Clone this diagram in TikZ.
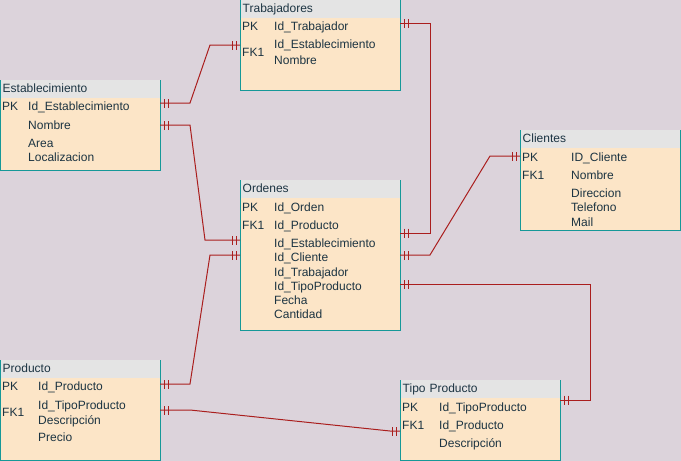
\documentclass[tikz,border=0pt]{standalone}
\usepackage{fontspec}
\setmainfont{Liberation Sans}
\usetikzlibrary{decorations.markings}
\definecolor{bgcol}{RGB}{220,211,219}
\definecolor{hdrcol}{RGB}{228,228,228}
\definecolor{bodycol}{RGB}{252,229,199}
\definecolor{tealcol}{RGB}{22,152,152}
\definecolor{relcol}{RGB}{170,30,30}
\definecolor{txtcol}{RGB}{28,52,66}

\begin{document}
\begin{tikzpicture}[x=1pt, y=-1pt,
    font=\fontsize{12}{14}\selectfont,
    tbl/.style={anchor=north west, fill=bodycol, minimum width=160pt, inner sep=0pt},
    hdr/.style={anchor=north west, fill=hdrcol, text width=155pt, inner xsep=2.5pt, inner ysep=0pt, minimum height=18pt, text height=10pt, text depth=3pt, text=txtcol},
    fld/.style={anchor=base west, yshift=-4.3pt, inner sep=0pt, text=txtcol},
    frame/.style={draw=tealcol, line width=1pt},
    tick/.style={draw=relcol, line width=1pt},
    rel/.style={draw=relcol, line width=1pt, postaction={decorate},
        decoration={markings,
            mark=at position 4pt with {\draw[tick] (0,-4.5pt) -- (0,4.5pt);},
            mark=at position 8pt with {\draw[tick] (0,-4.5pt) -- (0,4.5pt);},
            mark=at position -4pt with {\draw[tick] (0,-4.5pt) -- (0,4.5pt);},
            mark=at position -8pt with {\draw[tick] (0,-4.5pt) -- (0,4.5pt);}}}
]
\useasboundingbox[fill=bgcol] (0,0) rectangle (681,461);

% Trabajadores
\node[tbl, minimum height=90pt] (trab) at (240,0) {};
\node[hdr] (trabH) at (trab.north west) {Trabajadores};
\draw[frame] (trab.north west) |- (trab.south east) -- (trab.north east);
\node[fld] at (242,26) {PK};
\node[fld] at (242,52) {FK1};
\node[fld] at (274,26) {Id\_Trabajador};
\node[fld] at (274,44) {Id\_Establecimiento};
\node[fld] at (274,60) {Nombre};

% Establecimiento
\node[tbl, minimum height=90pt] (est) at (0,80) {};
\node[hdr] (estH) at (est.north west) {Establecimiento};
\draw[frame] (est.north west) |- (est.south east) -- (est.north east);
\node[fld] at (2,106) {PK};
\node[fld] at (28,106) {Id\_Establecimiento};
\node[fld] at (28,125) {Nombre};
\node[fld] at (28,143) {Area};
\node[fld] at (28,157) {Localizacion};

% Ordenes
\node[tbl, minimum height=150pt] (ord) at (240,180) {};
\node[hdr] (ordH) at (ord.north west) {Ordenes};
\draw[frame] (ord.north west) |- (ord.south east) -- (ord.north east);
\node[fld] at (242,207) {PK};
\node[fld] at (242,225) {FK1};
\node[fld] at (274,207) {Id\_Orden};
\node[fld] at (274,225) {Id\_Producto};
\node[fld] at (274,243) {Id\_Establecimiento};
\node[fld] at (274,257) {Id\_Cliente};
\node[fld] at (274,272) {Id\_Trabajador};
\node[fld] at (274,286) {Id\_TipoProducto};
\node[fld] at (274,300) {Fecha};
\node[fld] at (274,314) {Cantidad};

% Clientes
\node[tbl, minimum height=100pt] (cli) at (520,130) {};
\node[hdr] (cliH) at (cli.north west) {Clientes};
\draw[frame] (cli.north west) |- (cli.south east) -- (cli.north east);
\node[fld] at (522,157) {PK};
\node[fld] at (522,175) {FK1};
\node[fld] at (571,157) {ID\_Cliente};
\node[fld] at (571,175) {Nombre};
\node[fld] at (571,193) {Direccion};
\node[fld] at (571,207) {Telefono};
\node[fld] at (571,222) {Mail};

% Producto
\node[tbl, minimum height=100pt] (prod) at (0,360) {};
\node[hdr] (prodH) at (prod.north west) {Producto};
\draw[frame] (prod.north west) |- (prod.south east) -- (prod.north east);
\node[fld] at (2,386) {PK};
\node[fld] at (2,412) {FK1};
\node[fld] at (38,386) {Id\_Producto};
\node[fld] at (38,405) {Id\_TipoProducto};
\node[fld] at (38,420) {Descripción};
\node[fld] at (38,437) {Precio};

% Tipo Producto
\node[tbl, minimum height=80pt] (tipo) at (400,380) {};
\node[hdr] (tipoH) at (tipo.north west) {Tipo Producto};
\draw[frame] (tipo.north west) |- (tipo.south east) -- (tipo.north east);
\node[fld] at (402,407) {PK};
\node[fld] at (402,425) {FK1};
\node[fld] at (439,407) {Id\_TipoProducto};
\node[fld] at (439,425) {Id\_Producto};
\node[fld] at (439,443) {Descripción};

% ports on the table edges
\coordinate (trabPK) at (400,23);
\coordinate (trabFK) at (240,45);
\coordinate (estPK) at (160,103);
\coordinate (estNom) at (160,125);
\coordinate (ordProd) at (400,233);
\coordinate (ordEst) at (240,240);
\coordinate (ordCli) at (400,255);
\coordinate (ordCliL) at (240,255);
\coordinate (ordTipo) at (400,284);
\coordinate (cliPK) at (520,156);
\coordinate (prodPK) at (160,384);
\coordinate (prodFK) at (160,410);
\coordinate (tipoPK) at (560,400);
\coordinate (tipoFK) at (400,431);

% relationships
\draw[rel] (estPK) -- ++(30,0) -- ([xshift=-30pt]trabFK) -- (trabFK);
\draw[rel] (estNom) -- ++(30,0) -- ([xshift=-35pt]ordEst) -- (ordEst);
\draw[rel] (trabPK) -- ++(30,0) |- (ordProd);
\draw[rel] (ordCli) -- ++(30,0) -- ([xshift=-30pt]cliPK) -- (cliPK);
\draw[rel] (ordTipo) -| ([xshift=30pt]tipoPK) -- (tipoPK);
\draw[rel] (prodPK) -- ++(30,0) -- ([xshift=-30pt]ordCliL) -- (ordCliL);
\draw[rel] (prodFK) -- ++(30,0) -- ([xshift=-10pt]tipoFK) -- (tipoFK);

\end{tikzpicture}
\end{document}
